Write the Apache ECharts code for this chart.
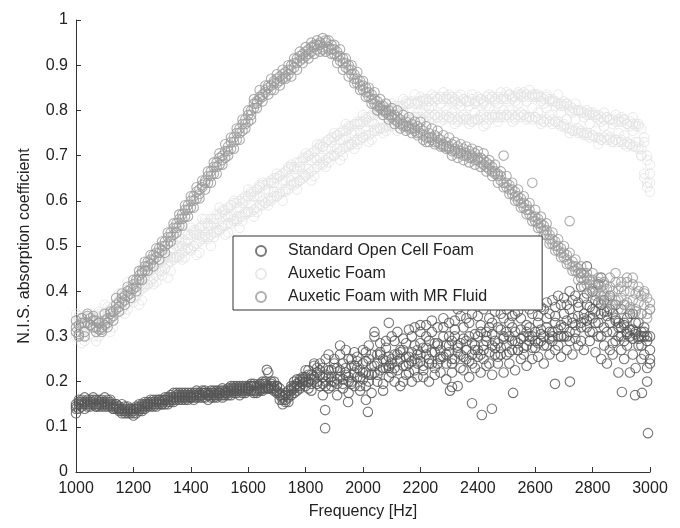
<!DOCTYPE html>
<html><head><meta charset="utf-8">
<script src="https://cdn.jsdelivr.net/npm/echarts@6/dist/echarts.min.js"></script>
<style>html,body{margin:0;padding:0;background:#fff}#c{width:680px;height:528px}</style>
</head><body><div id="c"></div>
<script>
const freqs = [
1000,1010,1020,1030,1040,1050,1060,1070,1080,1090,
1100,1110,1120,1130,1140,1150,1160,1170,1180,1190,
1200,1210,1220,1230,1240,1250,1260,1270,1280,1290,
1300,1310,1320,1330,1340,1350,1360,1370,1380,1390,
1400,1410,1420,1430,1440,1450,1460,1470,1480,1490,
1500,1510,1520,1530,1540,1550,1560,1570,1580,1590,
1600,1610,1620,1630,1640,1650,1660,1670,1680,1690,
1700,1710,1720,1730,1740,1750,1760,1770,1780,1790,
1800,1810,1820,1830,1840,1850,1860,1870,1880,1890,
1900,1910,1920,1930,1940,1950,1960,1970,1980,1990,
2000,2010,2020,2030,2040,2050,2060,2070,2080,2090,
2100,2110,2120,2130,2140,2150,2160,2170,2180,2190,
2200,2210,2220,2230,2240,2250,2260,2270,2280,2290,
2300,2310,2320,2330,2340,2350,2360,2370,2380,2390,
2400,2410,2420,2430,2440,2450,2460,2470,2480,2490,
2500,2510,2520,2530,2540,2550,2560,2570,2580,2590,
2600,2610,2620,2630,2640,2650,2660,2670,2680,2690,
2700,2710,2720,2730,2740,2750,2760,2770,2780,2790,
2800,2810,2820,2830,2840,2850,2860,2870,2880,2890,
2900,2910,2920,2930,2940,2950,2960,2970,2980,2990,
3000];

// Standard Open Cell Foam (overlapping measurement passes)
const stdA = [
0.13,0.15,0.16,0.155,0.15,0.16,0.155,0.15,0.16,0.155,
0.15,0.155,0.145,0.15,0.14,0.145,0.14,0.135,0.14,0.13,
0.135,0.13,0.14,0.145,0.145,0.15,0.155,0.15,0.155,0.15,
0.155,0.16,0.155,0.16,0.165,0.17,0.165,0.17,0.165,0.17,
0.17,0.165,0.17,0.175,0.17,0.165,0.17,0.175,0.17,0.175,
0.175,0.17,0.18,0.175,0.18,0.185,0.18,0.185,0.18,0.185,
0.185,0.19,0.18,0.185,0.19,0.185,0.195,0.19,0.185,0.19,
0.18,0.17,0.16,0.155,0.165,0.18,0.19,0.195,0.2,0.195,
0.21,0.2,0.215,0.205,0.22,0.19,0.23,0.2,0.21,0.225,
0.2,0.23,0.21,0.24,0.215,0.2,0.235,0.22,0.245,0.21,
0.24,0.22,0.25,0.215,0.235,0.26,0.225,0.25,0.23,0.255,
0.24,0.26,0.225,0.25,0.27,0.235,0.255,0.245,0.28,0.24,
0.26,0.235,0.275,0.25,0.265,0.285,0.24,0.27,0.255,0.28,
0.265,0.29,0.25,0.275,0.26,0.295,0.27,0.245,0.285,0.27,
0.3,0.26,0.28,0.29,0.265,0.305,0.275,0.285,0.26,0.295,
0.28,0.3,0.27,0.31,0.285,0.295,0.275,0.31,0.29,0.3,
0.31,0.285,0.315,0.3,0.32,0.295,0.31,0.33,0.3,0.325,
0.32,0.335,0.31,0.34,0.325,0.345,0.33,0.35,0.335,0.345,
0.34,0.355,0.33,0.35,0.32,0.345,0.33,0.31,0.335,0.32,
0.3,0.325,0.31,0.3,0.315,0.305,0.295,0.31,0.3,0.29,
0.3];
const stdB = [
0.14,0.16,0.145,0.165,0.155,0.145,0.165,0.16,0.145,0.16,
0.165,0.145,0.155,0.14,0.15,0.135,0.15,0.13,0.145,0.14,
0.125,0.145,0.135,0.15,0.14,0.155,0.145,0.16,0.145,0.16,
0.15,0.165,0.15,0.17,0.175,0.16,0.175,0.16,0.175,0.16,
0.175,0.16,0.18,0.165,0.175,0.18,0.16,0.17,0.18,0.165,
0.18,0.165,0.175,0.185,0.17,0.19,0.175,0.19,0.175,0.19,
0.18,0.195,0.19,0.175,0.195,0.18,0.2,0.185,0.2,0.18,
0.19,0.175,0.15,0.17,0.155,0.19,0.175,0.205,0.185,0.21,
0.19,0.225,0.18,0.235,0.195,0.24,0.17,0.25,0.185,0.2,
0.25,0.17,0.26,0.185,0.27,0.175,0.25,0.19,0.255,0.18,
0.27,0.19,0.28,0.175,0.3,0.2,0.285,0.18,0.29,0.21,
0.3,0.2,0.31,0.19,0.295,0.215,0.315,0.2,0.32,0.21,
0.31,0.21,0.325,0.2,0.335,0.215,0.32,0.22,0.34,0.205,
0.33,0.22,0.335,0.19,0.345,0.225,0.34,0.21,0.35,0.23,
0.345,0.22,0.36,0.235,0.34,0.215,0.355,0.24,0.35,0.22,
0.36,0.24,0.345,0.225,0.355,0.25,0.37,0.235,0.36,0.25,
0.37,0.255,0.365,0.24,0.375,0.26,0.38,0.27,0.39,0.255,
0.385,0.27,0.4,0.26,0.39,0.28,0.41,0.27,0.395,0.29,
0.4,0.265,0.415,0.25,0.38,0.24,0.39,0.26,0.37,0.22,
0.36,0.25,0.34,0.22,0.35,0.23,0.33,0.25,0.32,0.2,
0.27];
const stdC = [
0.15,0.14,0.155,0.15,0.145,0.155,0.15,0.145,0.15,0.145,
0.155,0.15,0.16,0.145,0.145,0.14,0.135,0.145,0.135,0.135,
0.14,0.14,0.15,0.14,0.155,0.145,0.15,0.155,0.16,0.155,
0.16,0.15,0.165,0.155,0.16,0.175,0.16,0.165,0.17,0.165,
0.165,0.175,0.165,0.17,0.18,0.175,0.175,0.165,0.175,0.17,
0.17,0.18,0.17,0.18,0.19,0.175,0.185,0.17,0.19,0.18,
0.19,0.18,0.175,0.19,0.18,0.2,0.185,0.22,0.19,0.2,
0.175,0.185,0.17,0.16,0.18,0.17,0.2,0.18,0.19,0.205,
0.2,0.215,0.195,0.21,0.23,0.215,0.21,0.19,0.225,0.21,
0.23,0.195,0.225,0.205,0.23,0.21,0.195,0.235,0.21,0.225,
0.205,0.245,0.215,0.26,0.22,0.24,0.265,0.23,0.245,0.235,
0.25,0.23,0.26,0.265,0.235,0.255,0.22,0.265,0.25,0.27,
0.245,0.275,0.26,0.29,0.24,0.265,0.285,0.25,0.3,0.26,
0.28,0.25,0.3,0.265,0.285,0.255,0.29,0.3,0.26,0.28,
0.27,0.31,0.25,0.3,0.32,0.28,0.29,0.255,0.315,0.3,
0.31,0.265,0.32,0.29,0.27,0.315,0.3,0.28,0.32,0.275,
0.29,0.33,0.305,0.28,0.34,0.31,0.29,0.345,0.315,0.3,
0.35,0.3,0.36,0.33,0.295,0.365,0.32,0.34,0.37,0.31,
0.36,0.33,0.375,0.3,0.355,0.31,0.36,0.285,0.34,0.3,
0.32,0.29,0.305,0.315,0.295,0.31,0.3,0.28,0.31,0.23,
0.24];
const stdD = [
0.145,0.155,0.15,0.14,0.16,0.15,0.16,0.145,0.155,0.15,
0.145,0.16,0.15,0.14,0.15,0.14,0.13,0.14,0.13,0.14,
0.13,0.14,0.145,0.135,0.15,0.15,0.16,0.145,0.15,0.16,
0.15,0.16,0.16,0.165,0.155,0.165,0.17,0.175,0.16,0.175,
0.165,0.17,0.175,0.17,0.165,0.175,0.17,0.18,0.165,0.18,
0.175,0.185,0.175,0.17,0.185,0.18,0.19,0.18,0.185,0.175,
0.185,0.19,0.195,0.18,0.185,0.195,0.19,0.185,0.195,0.185,
0.19,0.16,0.165,0.175,0.17,0.185,0.185,0.19,0.205,0.2,
0.225,0.185,0.205,0.24,0.2,0.225,0.195,0.215,0.26,0.19,
0.24,0.205,0.28,0.195,0.22,0.25,0.2,0.265,0.23,0.19,
0.22,0.265,0.2,0.235,0.31,0.215,0.26,0.195,0.275,0.23,
0.22,0.29,0.245,0.27,0.2,0.285,0.24,0.3,0.225,0.26,
0.285,0.225,0.3,0.24,0.31,0.23,0.28,0.255,0.32,0.24,
0.3,0.24,0.315,0.28,0.23,0.32,0.25,0.33,0.24,0.305,
0.255,0.325,0.27,0.31,0.24,0.33,0.26,0.32,0.275,0.34,
0.26,0.33,0.29,0.35,0.27,0.34,0.26,0.325,0.3,0.35,
0.275,0.345,0.29,0.36,0.28,0.35,0.3,0.365,0.28,0.37,
0.3,0.37,0.29,0.38,0.31,0.375,0.29,0.385,0.32,0.365,
0.31,0.38,0.3,0.37,0.28,0.355,0.27,0.35,0.29,0.33,
0.27,0.33,0.28,0.35,0.26,0.33,0.28,0.3,0.26,0.3,
0.25];
// isolated standard-foam points [Hz, coefficient]
const stdOutliers = [
[1665,0.226],[1868,0.097],[1868,0.137],[1948,0.155],[2017,0.133],[2010,0.16],
[2303,0.18],[2310,0.188],[2380,0.152],[2414,0.126],[2449,0.14],[2523,0.175],
[2669,0.195],[2721,0.2],[2902,0.177],[2948,0.17],[2972,0.175],[2993,0.086],
[2090,0.33],[2200,0.325],[2330,0.36],[2760,0.44],[2780,0.455],[2830,0.43]];

// Auxetic Foam (faint band)
const auxA = [
0.33,0.34,0.33,0.345,0.34,0.35,0.34,0.345,0.35,0.345,
0.35,0.355,0.36,0.365,0.375,0.38,0.39,0.395,0.40,0.41,
0.405,0.415,0.42,0.43,0.43,0.44,0.445,0.455,0.46,0.47,
0.465,0.475,0.48,0.49,0.495,0.50,0.50,0.515,0.51,0.525,
0.525,0.53,0.535,0.54,0.545,0.55,0.55,0.56,0.56,0.57,
0.57,0.575,0.58,0.585,0.59,0.595,0.595,0.60,0.605,0.61,
0.61,0.615,0.62,0.625,0.63,0.635,0.635,0.64,0.645,0.65,
0.65,0.655,0.66,0.665,0.67,0.675,0.675,0.685,0.685,0.695,
0.695,0.70,0.705,0.71,0.715,0.72,0.72,0.73,0.735,0.74,
0.74,0.745,0.75,0.755,0.755,0.76,0.765,0.77,0.77,0.775,
0.775,0.78,0.785,0.79,0.79,0.795,0.795,0.80,0.80,0.805,
0.80,0.805,0.81,0.81,0.81,0.815,0.815,0.82,0.815,0.82,
0.82,0.82,0.825,0.82,0.825,0.82,0.825,0.83,0.825,0.83,
0.825,0.82,0.825,0.83,0.82,0.825,0.82,0.82,0.825,0.815,
0.82,0.825,0.82,0.83,0.825,0.83,0.82,0.83,0.825,0.83,
0.825,0.835,0.83,0.83,0.835,0.83,0.84,0.835,0.83,0.835,
0.83,0.835,0.83,0.825,0.83,0.82,0.825,0.82,0.815,0.815,
0.81,0.815,0.81,0.805,0.80,0.80,0.80,0.795,0.79,0.795,
0.79,0.785,0.79,0.785,0.78,0.785,0.78,0.78,0.775,0.78,
0.775,0.78,0.77,0.775,0.77,0.765,0.77,0.76,0.74,0.70,
0.66];
const auxB = [
0.31,0.315,0.32,0.315,0.325,0.32,0.33,0.325,0.32,0.33,
0.325,0.33,0.34,0.345,0.35,0.355,0.36,0.37,0.375,0.38,
0.385,0.39,0.40,0.405,0.41,0.415,0.425,0.43,0.435,0.445,
0.445,0.45,0.46,0.465,0.47,0.475,0.48,0.485,0.49,0.495,
0.495,0.50,0.505,0.51,0.515,0.52,0.52,0.525,0.53,0.535,
0.535,0.54,0.545,0.55,0.55,0.555,0.56,0.565,0.565,0.57,
0.575,0.575,0.58,0.585,0.59,0.59,0.595,0.60,0.605,0.61,
0.61,0.615,0.62,0.625,0.625,0.635,0.635,0.64,0.645,0.65,
0.655,0.66,0.665,0.67,0.675,0.68,0.685,0.69,0.695,0.70,
0.70,0.705,0.71,0.715,0.72,0.72,0.725,0.73,0.735,0.735,
0.74,0.745,0.745,0.75,0.755,0.755,0.76,0.76,0.765,0.765,
0.77,0.77,0.775,0.775,0.775,0.78,0.78,0.78,0.785,0.785,
0.785,0.78,0.785,0.79,0.785,0.79,0.785,0.79,0.785,0.79,
0.785,0.78,0.785,0.78,0.785,0.78,0.785,0.78,0.775,0.78,
0.78,0.785,0.78,0.785,0.78,0.785,0.79,0.785,0.79,0.785,
0.79,0.785,0.79,0.785,0.79,0.785,0.79,0.785,0.785,0.78,
0.785,0.78,0.78,0.775,0.78,0.775,0.77,0.775,0.77,0.765,
0.765,0.76,0.76,0.755,0.755,0.75,0.75,0.745,0.745,0.74,
0.745,0.74,0.74,0.735,0.74,0.735,0.735,0.73,0.735,0.73,
0.73,0.725,0.73,0.725,0.72,0.72,0.715,0.70,0.66,0.63,
0.62];
const auxC = [
0.35,0.31,0.335,0.29,0.325,0.345,0.30,0.33,0.30,0.345,
0.37,0.33,0.36,0.32,0.36,0.395,0.36,0.39,0.36,0.41,
0.425,0.39,0.415,0.38,0.415,0.455,0.42,0.45,0.42,0.465,
0.485,0.45,0.475,0.445,0.475,0.515,0.475,0.50,0.475,0.515,
0.54,0.50,0.525,0.485,0.52,0.56,0.515,0.545,0.52,0.56,
0.585,0.545,0.57,0.53,0.565,0.60,0.555,0.585,0.555,0.60,
0.625,0.59,0.61,0.575,0.61,0.64,0.595,0.625,0.60,0.64,
0.66,0.62,0.645,0.62,0.65,0.68,0.64,0.67,0.645,0.69,
0.705,0.67,0.69,0.655,0.69,0.725,0.68,0.715,0.685,0.73,
0.75,0.715,0.735,0.70,0.74,0.765,0.725,0.755,0.725,0.77,
0.79,0.755,0.775,0.735,0.77,0.80,0.76,0.79,0.755,0.80,
0.815,0.78,0.80,0.765,0.795,0.82,0.775,0.805,0.77,0.815,
0.83,0.795,0.81,0.775,0.81,0.83,0.785,0.815,0.78,0.825,
0.835,0.795,0.82,0.775,0.81,0.825,0.78,0.81,0.775,0.82,
0.83,0.79,0.815,0.77,0.805,0.83,0.785,0.815,0.785,0.825,
0.84,0.80,0.825,0.78,0.815,0.835,0.79,0.82,0.785,0.83,
0.835,0.795,0.82,0.775,0.805,0.825,0.78,0.81,0.775,0.81,
0.82,0.78,0.80,0.755,0.78,0.80,0.755,0.785,0.75,0.79,
0.795,0.755,0.78,0.735,0.765,0.785,0.74,0.77,0.735,0.775,
0.785,0.745,0.77,0.725,0.755,0.77,0.73,0.70,0.65,0.69,
0.64];
const auxD = [
0.30,0.345,0.285,0.33,0.35,0.305,0.34,0.29,0.355,0.315,
0.32,0.365,0.31,0.355,0.385,0.355,0.38,0.35,0.42,0.385,
0.375,0.42,0.37,0.415,0.445,0.415,0.455,0.415,0.475,0.445,
0.435,0.48,0.43,0.475,0.505,0.475,0.51,0.47,0.525,0.495,
0.49,0.535,0.48,0.525,0.56,0.525,0.545,0.50,0.55,0.53,
0.535,0.58,0.525,0.565,0.59,0.56,0.585,0.54,0.595,0.575,
0.575,0.62,0.565,0.61,0.635,0.60,0.625,0.59,0.64,0.62,
0.61,0.655,0.60,0.645,0.675,0.645,0.67,0.625,0.675,0.66,
0.655,0.70,0.645,0.695,0.725,0.695,0.72,0.675,0.735,0.715,
0.70,0.745,0.69,0.735,0.77,0.725,0.75,0.715,0.775,0.75,
0.74,0.785,0.73,0.775,0.805,0.76,0.795,0.75,0.805,0.775,
0.765,0.81,0.755,0.795,0.825,0.78,0.815,0.77,0.835,0.795,
0.78,0.825,0.765,0.805,0.835,0.79,0.825,0.775,0.84,0.80,
0.785,0.83,0.77,0.815,0.835,0.79,0.82,0.77,0.835,0.795,
0.78,0.825,0.765,0.81,0.835,0.79,0.825,0.775,0.84,0.80,
0.79,0.835,0.775,0.82,0.84,0.795,0.83,0.78,0.845,0.805,
0.785,0.83,0.77,0.815,0.835,0.79,0.82,0.775,0.835,0.795,
0.77,0.815,0.75,0.795,0.815,0.76,0.795,0.75,0.80,0.77,
0.745,0.79,0.725,0.775,0.795,0.745,0.78,0.73,0.79,0.75,
0.735,0.78,0.72,0.765,0.785,0.73,0.765,0.715,0.73,0.64,
0.68];

// Auxetic Foam with MR Fluid (three passes)
const mrA = [
0.31,0.325,0.34,0.33,0.345,0.325,0.335,0.32,0.33,0.315,
0.335,0.33,0.35,0.345,0.37,0.365,0.385,0.38,0.40,0.395,
0.415,0.41,0.435,0.44,0.445,0.465,0.46,0.48,0.475,0.495,
0.49,0.51,0.505,0.53,0.525,0.55,0.545,0.57,0.565,0.59,
0.585,0.61,0.605,0.625,0.63,0.645,0.64,0.665,0.66,0.685,
0.68,0.70,0.695,0.72,0.715,0.74,0.735,0.76,0.755,0.78,
0.775,0.80,0.805,0.82,0.825,0.835,0.84,0.85,0.845,0.865,
0.86,0.875,0.87,0.885,0.88,0.9,0.895,0.915,0.91,0.925,
0.92,0.935,0.93,0.945,0.935,0.95,0.94,0.955,0.935,0.945,
0.925,0.93,0.91,0.915,0.895,0.9,0.88,0.88,0.86,0.865,
0.845,0.85,0.83,0.835,0.815,0.82,0.805,0.81,0.795,0.8,
0.785,0.79,0.775,0.78,0.765,0.775,0.76,0.77,0.755,0.765,
0.75,0.755,0.74,0.75,0.735,0.745,0.73,0.735,0.72,0.73,
0.715,0.725,0.71,0.72,0.705,0.715,0.7,0.71,0.695,0.705,
0.69,0.695,0.68,0.685,0.67,0.675,0.66,0.66,0.645,0.70,
0.63,0.635,0.615,0.62,0.6,0.605,0.585,0.59,0.57,0.64,
0.555,0.56,0.54,0.545,0.525,0.525,0.505,0.51,0.49,0.495,
0.475,0.48,0.46,0.465,0.445,0.45,0.43,0.44,0.415,0.425,
0.405,0.415,0.395,0.41,0.39,0.405,0.385,0.4,0.38,0.405,
0.385,0.4,0.375,0.4,0.38,0.395,0.375,0.39,0.37,0.385,
0.375];
const mrB = [
0.32,0.305,0.33,0.30,0.33,0.34,0.32,0.335,0.315,0.32,
0.325,0.34,0.34,0.355,0.36,0.375,0.375,0.39,0.39,0.405,
0.405,0.425,0.425,0.445,0.455,0.455,0.47,0.47,0.485,0.485,
0.5,0.5,0.52,0.52,0.54,0.54,0.56,0.56,0.58,0.58,
0.6,0.6,0.62,0.615,0.635,0.64,0.655,0.655,0.675,0.675,
0.695,0.69,0.71,0.71,0.73,0.73,0.75,0.75,0.77,0.77,
0.79,0.79,0.815,0.815,0.83,0.83,0.845,0.855,0.855,0.86,
0.87,0.865,0.88,0.875,0.89,0.89,0.905,0.905,0.92,0.915,
0.93,0.925,0.94,0.94,0.945,0.945,0.935,0.95,0.94,0.935,
0.935,0.92,0.92,0.905,0.905,0.89,0.89,0.87,0.87,0.855,
0.855,0.84,0.84,0.825,0.825,0.81,0.81,0.8,0.8,0.79,
0.79,0.78,0.785,0.77,0.77,0.765,0.765,0.76,0.76,0.75,
0.76,0.745,0.73,0.74,0.74,0.73,0.74,0.725,0.725,0.72,
0.72,0.71,0.715,0.705,0.71,0.7,0.705,0.695,0.7,0.69,
0.695,0.685,0.69,0.675,0.68,0.665,0.665,0.655,0.655,0.64,
0.64,0.625,0.625,0.61,0.61,0.595,0.595,0.58,0.58,0.565,
0.565,0.55,0.55,0.535,0.535,0.515,0.515,0.5,0.5,0.485,
0.485,0.47,0.555,0.455,0.455,0.44,0.44,0.425,0.43,0.415,
0.44,0.4,0.43,0.39,0.42,0.38,0.43,0.37,0.42,0.36,
0.41,0.37,0.42,0.365,0.43,0.36,0.40,0.35,0.395,0.35,
0.36];
const mrC = [
0.335,0.30,0.34,0.31,0.35,0.325,0.345,0.31,0.33,0.31,
0.35,0.32,0.355,0.335,0.385,0.355,0.395,0.37,0.41,0.385,
0.425,0.40,0.445,0.425,0.465,0.445,0.48,0.455,0.495,0.47,
0.51,0.485,0.53,0.51,0.55,0.53,0.57,0.545,0.59,0.565,
0.61,0.585,0.63,0.605,0.645,0.625,0.665,0.64,0.685,0.66,
0.705,0.68,0.725,0.70,0.74,0.715,0.76,0.735,0.78,0.76,
0.80,0.78,0.825,0.805,0.845,0.82,0.855,0.835,0.87,0.845,
0.88,0.855,0.89,0.87,0.9,0.875,0.915,0.89,0.93,0.905,
0.94,0.915,0.95,0.925,0.955,0.93,0.96,0.93,0.955,0.925,
0.945,0.905,0.935,0.89,0.915,0.875,0.90,0.86,0.885,0.845,
0.865,0.83,0.85,0.815,0.84,0.80,0.825,0.79,0.815,0.78,
0.805,0.77,0.80,0.76,0.79,0.755,0.785,0.75,0.775,0.745,
0.775,0.735,0.765,0.73,0.76,0.725,0.755,0.72,0.745,0.715,
0.74,0.70,0.73,0.695,0.725,0.69,0.72,0.685,0.715,0.68,
0.71,0.675,0.705,0.665,0.69,0.655,0.68,0.64,0.665,0.63,
0.655,0.615,0.64,0.60,0.625,0.585,0.61,0.57,0.595,0.555,
0.58,0.54,0.565,0.525,0.55,0.505,0.53,0.49,0.515,0.475,
0.50,0.46,0.485,0.445,0.47,0.425,0.455,0.41,0.44,0.40,
0.425,0.39,0.42,0.38,0.415,0.375,0.41,0.37,0.44,0.38,
0.42,0.37,0.43,0.36,0.415,0.355,0.41,0.35,0.40,0.34,
0.36];

const names = ['Standard Open Cell Foam', 'Auxetic Foam', 'Auxetic Foam with MR Fluid'];
const pairs = (ys) => freqs.map((f, i) => [f, ys[i]]);

const FONT = 'Liberation Sans';
const chart = echarts.init(document.getElementById('c'), null, {renderer: 'canvas'});
const ringSeries = (name, data, color, bw) => ({
  name: name, type: 'scatter', data: data, symbol: 'circle', symbolSize: 9.5,
  itemStyle: {color: 'rgba(255,255,255,0)', borderColor: color, borderWidth: bw},
  emphasis: {disabled: true}, silent: true
});
chart.setOption({
  animation: false,
  backgroundColor: '#fff',
  grid: {left: 76, right: 30, top: 20, bottom: 56, containLabel: false},
  xAxis: {
    type: 'value', min: 1000, max: 3000, interval: 200,
    name: 'Frequency [Hz]', nameLocation: 'middle', nameGap: 32,
    nameTextStyle: {fontFamily: FONT, fontSize: 16, color: '#222'},
    axisLine: {show: true, lineStyle: {color: '#333', width: 1}},
    axisTick: {show: true, inside: true, length: 5, lineStyle: {color: '#333'}},
    axisLabel: {fontFamily: FONT, fontSize: 16, color: '#222', margin: 9, formatter: v => String(v)},
    splitLine: {show: false}
  },
  yAxis: {
    type: 'value', min: 0, max: 1, interval: 0.1,
    name: 'N.I.S. absorption coefficient', nameLocation: 'middle', nameGap: 43,
    nameTextStyle: {fontFamily: FONT, fontSize: 16, color: '#222'},
    axisLine: {show: true, lineStyle: {color: '#333', width: 1}},
    axisTick: {show: true, inside: true, length: 5, lineStyle: {color: '#333'}},
    axisLabel: {fontFamily: FONT, fontSize: 16, color: '#222', margin: 8},
    splitLine: {show: false}
  },
  legend: {
    orient: 'vertical', left: 233, top: 236,
    padding: [7, 55, 5, 22], itemGap: 7, itemWidth: 44, itemHeight: 10,
    backgroundColor: '#fff', borderColor: '#333', borderWidth: 1, borderRadius: 0,
    textStyle: {fontFamily: FONT, fontSize: 16, color: '#222', lineHeight: 16},
    data: names.map(n => ({name: n, icon: 'circle'}))
  },
  series: [
    ringSeries(names[0], pairs(stdA).concat(pairs(stdB), pairs(stdC), pairs(stdD), stdOutliers), '#565656', 1.1),
    ringSeries(names[1], pairs(auxA).concat(pairs(auxB), pairs(auxC), pairs(auxD)), '#e4e4e4', 1),
    ringSeries(names[2], pairs(mrA).concat(pairs(mrB), pairs(mrC)), '#9a9a9a', 1.1)
  ]
});
</script>
</body></html>
